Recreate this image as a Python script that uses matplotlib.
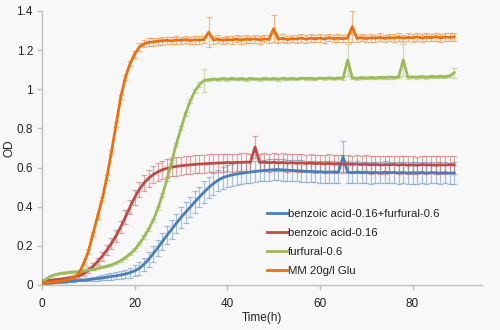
import matplotlib
matplotlib.use("Agg")
import matplotlib.pyplot as plt
import numpy as np

plt.rcParams['font.family'] = ['Liberation Sans', 'DejaVu Sans']

time_h = list(range(90))

labels = ["benzoic acid-0.16+furfural-0.6", "benzoic acid-0.16", "furfural-0.6", "MM 20g/l Glu"]

od_blue = [0.010, 0.010, 0.012, 0.013, 0.015, 0.017, 0.019, 0.021, 0.023, 0.025,
           0.027, 0.030, 0.033, 0.036, 0.040, 0.043, 0.047, 0.051, 0.056, 0.063,
           0.072, 0.085, 0.105, 0.130, 0.160, 0.190, 0.222, 0.255, 0.285, 0.315,
           0.345, 0.372, 0.398, 0.425, 0.450, 0.475, 0.498, 0.518, 0.535, 0.548,
           0.556, 0.562, 0.567, 0.571, 0.574, 0.577, 0.580, 0.583, 0.585, 0.587,
           0.589, 0.590, 0.588, 0.587, 0.585, 0.584, 0.582, 0.581, 0.580, 0.579,
           0.578, 0.577, 0.576, 0.578, 0.575, 0.656, 0.576, 0.574, 0.577, 0.575,
           0.576, 0.574, 0.575, 0.573, 0.576, 0.574, 0.575, 0.573, 0.574, 0.572,
           0.574, 0.573, 0.575, 0.572, 0.574, 0.573, 0.572, 0.574, 0.571, 0.573]
err_blue = [0.005] * 10 + [0.008, 0.010, 0.012, 0.013, 0.015, 0.016, 0.018, 0.020, 0.022, 0.025,
            0.028, 0.032, 0.035, 0.038, 0.040, 0.042, 0.044, 0.046, 0.048, 0.050] + \
           [0.052, 0.054, 0.052, 0.055, 0.053, 0.055, 0.054, 0.056, 0.054, 0.055,
            0.055, 0.054, 0.056, 0.055, 0.054, 0.056, 0.055, 0.053, 0.055, 0.056,
            0.054, 0.055, 0.056, 0.054, 0.055, 0.053, 0.056, 0.055, 0.054, 0.055,
            0.056, 0.054, 0.055, 0.056, 0.054, 0.080, 0.055, 0.054, 0.056, 0.055,
            0.054, 0.056, 0.055, 0.054, 0.056, 0.055, 0.054, 0.056, 0.055, 0.054,
            0.056, 0.055, 0.054, 0.056, 0.055, 0.054, 0.056, 0.055, 0.054, 0.055]

od_red = [0.020, 0.022, 0.024, 0.027, 0.030, 0.033, 0.036, 0.040, 0.047, 0.058,
          0.075, 0.095, 0.120, 0.147, 0.178, 0.213, 0.252, 0.297, 0.347, 0.398,
          0.447, 0.488, 0.520, 0.545, 0.564, 0.578, 0.589, 0.596, 0.602, 0.606,
          0.609, 0.612, 0.614, 0.616, 0.618, 0.619, 0.621, 0.622, 0.623, 0.624,
          0.626, 0.625, 0.627, 0.626, 0.628, 0.627, 0.705, 0.626, 0.628, 0.625,
          0.627, 0.624, 0.626, 0.623, 0.625, 0.622, 0.624, 0.621, 0.623, 0.620,
          0.622, 0.619, 0.621, 0.618, 0.620, 0.617, 0.619, 0.616, 0.618, 0.615,
          0.617, 0.614, 0.616, 0.613, 0.615, 0.614, 0.616, 0.613, 0.615, 0.612,
          0.614, 0.612, 0.615, 0.613, 0.614, 0.612, 0.614, 0.613, 0.615, 0.613]
err_red = [0.006, 0.006, 0.007, 0.007, 0.008, 0.008, 0.009, 0.010, 0.011, 0.013,
           0.015, 0.018, 0.020, 0.022, 0.025, 0.027, 0.030, 0.032, 0.034, 0.036,
           0.038, 0.040, 0.042, 0.043, 0.044, 0.045, 0.046, 0.046, 0.047, 0.047,
           0.046, 0.047, 0.045, 0.046, 0.047, 0.045, 0.046, 0.047, 0.045, 0.046,
           0.045, 0.046, 0.044, 0.046, 0.045, 0.044, 0.055, 0.045, 0.044, 0.046,
           0.045, 0.044, 0.046, 0.045, 0.044, 0.045, 0.046, 0.044, 0.045, 0.046,
           0.044, 0.045, 0.046, 0.044, 0.045, 0.046, 0.044, 0.045, 0.046, 0.044,
           0.045, 0.046, 0.044, 0.045, 0.046, 0.044, 0.045, 0.046, 0.044, 0.045,
           0.046, 0.044, 0.045, 0.046, 0.044, 0.045, 0.046, 0.044, 0.045, 0.044]

od_green = [0.010, 0.032, 0.046, 0.054, 0.059, 0.062, 0.065, 0.067, 0.069, 0.072,
            0.076, 0.080, 0.085, 0.090, 0.096, 0.103, 0.112, 0.125, 0.140, 0.158,
            0.180, 0.210, 0.245, 0.285, 0.330, 0.390, 0.460, 0.540, 0.630, 0.720,
            0.800, 0.875, 0.940, 0.990, 1.025, 1.045, 1.048, 1.052, 1.050, 1.054,
            1.051, 1.055, 1.052, 1.054, 1.050, 1.055, 1.053, 1.051, 1.055, 1.052,
            1.054, 1.051, 1.056, 1.053, 1.055, 1.052, 1.057, 1.054, 1.056, 1.053,
            1.057, 1.055, 1.058, 1.054, 1.057, 1.056, 1.150, 1.058, 1.056, 1.059,
            1.057, 1.060, 1.058, 1.061, 1.059, 1.062, 1.060, 1.063, 1.150, 1.061,
            1.063, 1.062, 1.064, 1.061, 1.065, 1.063, 1.066, 1.064, 1.068, 1.085]
err_green = [0.004] * 10 + [0.005] * 10 + [0.008] * 10 + \
            [0.010, 0.010, 0.010, 0.010, 0.012, 0.060, 0.008, 0.007, 0.007, 0.007] + \
            [0.007] * 26 + [0.080] + [0.007] * 11 + [0.080] + [0.007] * 10 + [0.025]

od_orange = [0.010, 0.012, 0.015, 0.018, 0.020, 0.024, 0.030, 0.040, 0.060, 0.110,
             0.170, 0.260, 0.350, 0.440, 0.550, 0.680, 0.820, 0.960, 1.060, 1.130,
             1.180, 1.215, 1.232, 1.240, 1.242, 1.246, 1.248, 1.250, 1.247, 1.252,
             1.250, 1.254, 1.249, 1.253, 1.251, 1.255, 1.292, 1.252, 1.256, 1.250,
             1.254, 1.252, 1.257, 1.251, 1.256, 1.254, 1.258, 1.252, 1.257, 1.255,
             1.310, 1.256, 1.260, 1.254, 1.259, 1.257, 1.262, 1.256, 1.261, 1.258,
             1.262, 1.257, 1.263, 1.259, 1.261, 1.258, 1.263, 1.320, 1.260, 1.264,
             1.259, 1.263, 1.261, 1.265, 1.260, 1.264, 1.262, 1.266, 1.261, 1.265,
             1.263, 1.267, 1.262, 1.266, 1.264, 1.268, 1.263, 1.267, 1.265, 1.268]
err_orange = [0.005] * 8 + [0.008, 0.010] + [0.012] * 10 + \
             [0.018, 0.020, 0.018, 0.020, 0.019, 0.018, 0.020, 0.019, 0.018, 0.020,
              0.019, 0.020, 0.018, 0.020, 0.019, 0.018, 0.075, 0.019, 0.020, 0.018] + \
             [0.020, 0.019, 0.018, 0.020, 0.019, 0.018, 0.020, 0.019, 0.018, 0.020,
              0.070, 0.019, 0.020, 0.018, 0.020, 0.019, 0.018, 0.020, 0.019, 0.018,
              0.020, 0.019, 0.018, 0.020, 0.019, 0.018, 0.020, 0.080, 0.019, 0.018,
              0.020, 0.019, 0.018, 0.020, 0.019, 0.018, 0.020, 0.019, 0.018, 0.020,
              0.019, 0.018, 0.020, 0.019, 0.018, 0.020, 0.019, 0.018, 0.020, 0.022]

colors = ["#4A7EBB", "#BE4B48", "#9BBB59", "#E8700E"]
series = [(od_blue, err_blue), (od_red, err_red), (od_green, err_green), (od_orange, err_orange)]

bg = "#F8F8F8"
fig = plt.figure(figsize=(5.0, 3.3), dpi=100, facecolor=bg)
ax = fig.add_axes([0.084, 0.1364, 0.88, 0.8303], facecolor=bg)

handles = []
for (vals, errs), col, lab in zip(series, colors, labels):
    ax.errorbar(time_h, vals, yerr=errs, fmt='none', ecolor=col, alpha=0.45,
                elinewidth=0.9, capsize=2.2, capthick=0.9, zorder=2)
    ln, = ax.plot(time_h, vals, color=col, lw=2.0, label=lab, zorder=3)
    handles.append(ln)

ax.set_xlim(0, 95)
ax.set_ylim(0, 1.4)
ax.set_xticks([0, 20, 40, 60, 80])
ax.set_yticks([0, 0.2, 0.4, 0.6, 0.8, 1.0, 1.2, 1.4])
ax.set_yticklabels(["0", "0.2", "0.4", "0.6", "0.8", "1", "1.2", "1.4"])

for s in ["top", "right"]:
    ax.spines[s].set_visible(False)
for s in ["left", "bottom"]:
    ax.spines[s].set_color("#BFBFBF")
    ax.spines[s].set_linewidth(1.0)
ax.tick_params(axis='both', colors="#BFBFBF", labelcolor="#222222", labelsize=8.5,
               length=3.5, width=1.0, direction='out')
ax.tick_params(axis='x', pad=6)
ax.tick_params(axis='y', pad=3)

ax.set_xlabel("Time(h)", fontsize=8.5, color="#222222", labelpad=1)
ax.set_ylabel("OD", fontsize=8.5, color="#222222", labelpad=1)

leg = fig.legend(handles=handles, labels=labels, loc='upper left',
                 bbox_to_anchor=(267 / 500, 1 - 209 / 330), frameon=False,
                 fontsize=8.2, handlelength=1.75, handletextpad=0.1,
                 labelspacing=0.78, borderpad=0, borderaxespad=0)
for t in leg.get_texts():
    t.set_color("#222222")

fig.savefig("out.png", dpi=100, facecolor=bg)
